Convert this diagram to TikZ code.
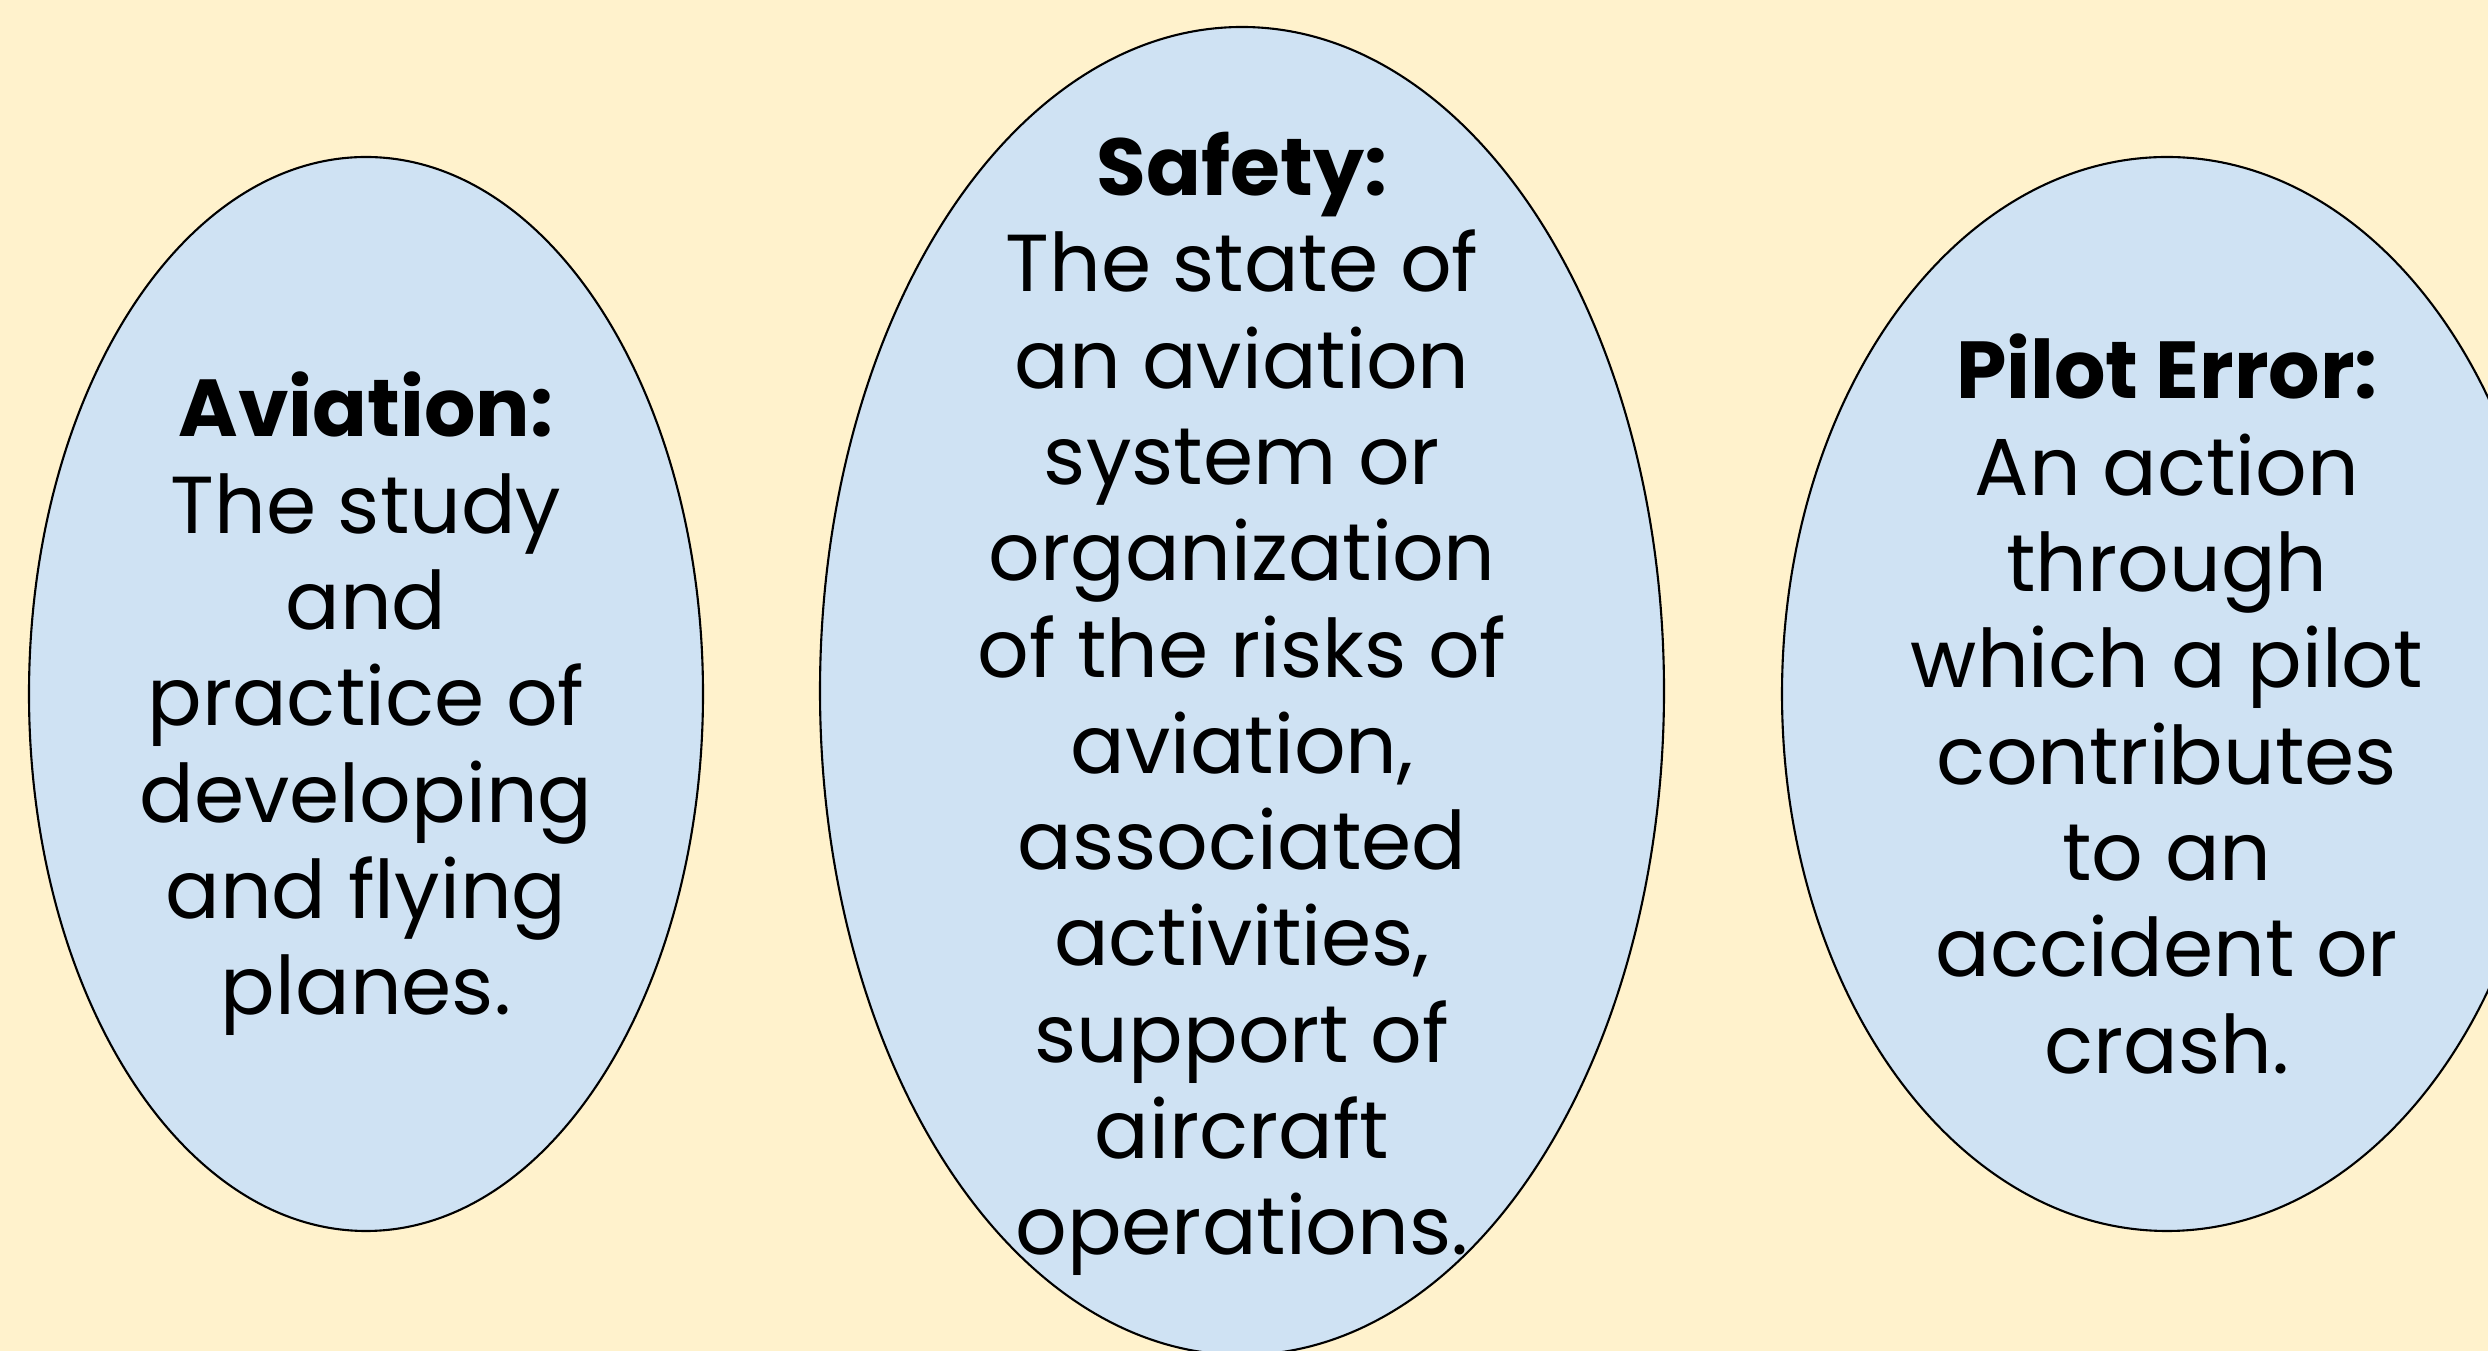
\documentclass[tikz,border=0pt]{standalone}
\usepackage{fontspec}
\setmainfont{Poppins}
\usepackage{tikz}
\usetikzlibrary{positioning}
\usepackage{xcolor}
\definecolor{creambg}{RGB}{255, 242, 204}
\definecolor{paleblue}{RGB}{207, 226, 243}

\tikzset{
    bubble/.style={fill=paleblue, draw=black, line width=0.6pt},
    term/.style={align=center, font=\fontsize{23}{27.4}\selectfont}
}

\begin{document}
\begin{tikzpicture}
    % fondo
    \useasboundingbox (0,0) rectangle (24.88,13.51);
    \clip (0,0) rectangle (24.88,13.51);
    \fill[creambg] (0,0) rectangle (24.88,13.51);

    % elipses
    \draw[bubble] (3.66,6.57) ellipse [x radius=3.37cm, y radius=5.37cm];
    \draw[bubble] (12.42,6.60) ellipse [x radius=4.22cm, y radius=6.64cm];
    \draw[bubble] (21.67,6.57) ellipse [x radius=3.85cm, y radius=5.37cm];

    % textos
    \node[term] (aviation) at (3.66,6.47) {\textbf{Aviation:}\\The study\\and\\practice of\\developing\\and flying\\planes.};
    \node[term] (safety) at (12.42,6.47) {\textbf{Safety:}\\The state of\\an aviation\\system or\\organization\\of the risks of\\aviation,\\associated\\activities,\\support of\\aircraft\\operations.};
    \node[term] (piloterror) at (21.67,6.47) {\textbf{Pilot Error:}\\An action\\through\\which a pilot\\contributes\\to an\\accident or\\crash.};
\end{tikzpicture}
\end{document}
